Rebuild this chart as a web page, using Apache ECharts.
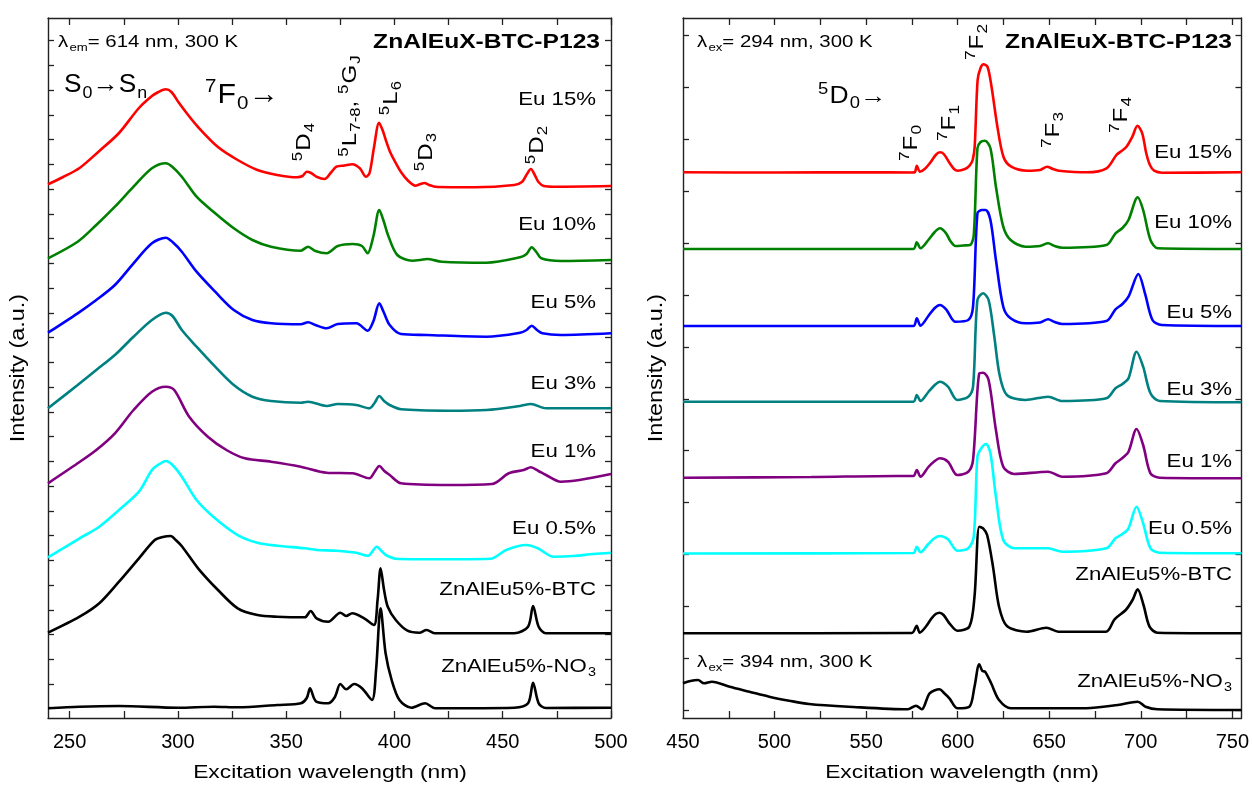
<!DOCTYPE html>
<html><head><meta charset="utf-8">
<script src="https://cdn.jsdelivr.net/npm/echarts@6.0.0/dist/echarts.min.js"></script>
<style>html,body{margin:0;padding:0;background:#fff}#c{width:1252px;height:785px}</style>
</head><body><div id="c"></div>
<script>
// ---------------- DATA (arbitrary intensity units, offset spectra) -------------
const xTicksL = [250,275,300,325,350,375,400,425,450,475,500];
const xLabelsL = [250,300,350,400,450,500];
const xTicksR = [475,500,525,550,575,600,625,650,675,700,725,750];
const xLabelsR = [450,500,550,600,650,700,750];
const yTicksL = [34,58.75,83.5,108.25,133,157.75,182.5,207.25,232,256.75,281.5,306.25,331,355.75,380.5,405.25,430,454.75,479.5,504.25,529,553.75,578.5,603.25,628,652.75,677.5];
const yTicksR = [8,59.9,111.7,163.6,215.5,267.4,319.2,371.1,423,474.9,526.7,578.6,630.5,682.4];
const sampleNames = ['Eu 15%','Eu 10%','Eu 5%','Eu 3%','Eu 1%','Eu 0.5%','ZnAlEu5%-BTC','ZnAlEu5%-NO{sub|3}'];
const sampleColors = ['#ff0000','#008000','#0000ff','#008080','#800080','#00ffff','#000000','#000000'];

const excEu15 = [[240,533.7],[247,541],[254.6,550],[263.7,567],[272.8,585],[282,610],[288,622],[291,626],[294.4,628.7],[297,626],[300.2,616],[304,605],[309.3,591],[318.5,571],[327.6,558],[336.7,548],[345.8,543],[355,540.7],[357.5,542],[359.5,546.3],[361.5,545],[364,541.3],[367.7,539],[370.5,545],[373.2,551.3],[377,552.5],[380.5,553.7],[384,549.7],[386.9,541.3],[388.5,545],[390.5,570],[392.9,595.3],[394.5,588],[396,578],[398,566],[400.6,555],[403,546],[406,538],[409.7,532.3],[412,534],[413.9,535],[416,533],[418.8,531.3],[437,530.7],[455.3,533],[459,536.3],[461.2,544],[463,549],[464.8,543],[466.5,536],[469,532],[473.5,531.3],[500,532]];
const excEu10 = [[240,459.7],[253.7,476.3],[262.3,493],[270.9,511.3],[279.5,531.3],[288,549.7],[294.4,554.7],[297.5,551],[301.8,541.3],[308.6,521.3],[317.2,504.7],[325.8,489.7],[334.4,478],[343,471.3],[356.7,467.3],[360.1,471.3],[363.5,467],[368.7,464.7],[373.8,472],[380.7,474],[385,472],[387.6,464.7],[390.3,482],[393,508],[395,497],[397,483],[401.3,463],[408.2,457.3],[412,458],[415,459],[421.9,456.3],[442.5,455.3],[458,460.7],[461,464],[463.4,470.7],[465.5,466],[467.8,459.7],[476.8,457],[500,458]];
const excEu5 = [[240,385.3],[253.7,404.7],[262.3,418],[270.9,433],[279.5,454.7],[288,474.7],[294.4,480.3],[297.5,476],[301.8,466.3],[308.6,446.3],[317.2,426.3],[325.8,408],[334.4,398],[343,394.7],[356.7,393.7],[360.1,395.7],[363.5,393],[368.7,389.7],[373.8,394],[382.4,394.7],[387.6,387.3],[390.3,397],[393,414.7],[395,406],[397.8,393],[403,384],[415,383],[442.5,381.3],[458,385.3],[461,388],[463.4,392.3],[465.8,388],[468.3,384.7],[476.8,383],[500,384.7]];
const excEu3 = [[240,309.7],[253.7,333],[262.3,348],[270.9,363],[279.5,381.3],[288,398],[294.4,405.3],[297.5,402],[301.8,388],[308.6,371.3],[317.2,351.3],[325.8,333],[334.4,321.3],[343,317],[356.7,315.3],[360.1,316.3],[368.7,312],[373.8,314],[382.4,313],[388.4,309.7],[390.8,315],[393,322],[395.2,317],[397.8,313],[403,308.7],[425.3,307.3],[442.5,308],[458,312],[463,314],[470,309.7],[500,309.7]];
const excEu1 = [[240,234.7],[253.7,254.7],[262.3,268],[270.9,284.7],[279.5,308],[288,326.3],[294.4,331.3],[298.3,328],[305.2,301.3],[313.8,281.3],[322.4,268],[330.9,259.7],[343,256.3],[356.7,251.3],[368.7,245.3],[380.7,244.7],[388.4,239.7],[390.8,246],[393,252],[395.3,247],[397.8,243],[403,234.7],[425.3,233],[445,234],[452.8,244.7],[459.7,248],[463,250.7],[466.5,247],[470,243],[476.8,236.3],[485.4,238],[500,244]];
const excEu05 = [[240,160.7],[254.6,179.7],[263.7,191.3],[272.8,208],[282,226.3],[288,248],[291.5,254],[294.4,257],[297.5,253],[301.8,241.3],[308.6,218],[317,200],[327.6,183],[336.7,175.3],[345.8,172.3],[358.6,169.7],[364,168],[373.2,167.3],[382.3,165.3],[387.8,162.3],[391.8,171.3],[394,167],[396,163],[400.6,159.3],[418.8,158.7],[444.3,159.3],[451.6,168],[460.8,173],[466.2,169.7],[473.5,161.3],[482.6,162],[491.8,164],[500,165.3]];
const excBTC = [[240,85.3],[254.6,101.3],[263.7,114.7],[272.8,136.3],[282,159.7],[289.3,178],[293,181],[296.6,182],[299,178],[302,171.3],[309.3,149.7],[318.5,128],[327.6,109.7],[336.7,103],[345.8,101.3],[358.6,100.7],[361.3,107],[364,99.7],[369.4,96.3],[375,105.3],[377.7,102],[380.5,104.7],[386,99.7],[390.5,93],[392.2,118],[393.6,149.7],[395.2,128],[396.9,111.3],[400.6,98],[406,87.3],[411.5,85.3],[414.8,88],[418.8,84.7],[455.3,84.7],[461.7,91.3],[464,112],[466.6,91.3],[469.9,84.7],[500,84.7]];
const excNO3 = [[240,9.7],[254.6,11.3],[272.8,12],[300.2,10.3],[316.6,11.3],[327.6,10.7],[345.8,13],[356.8,14.7],[359.5,20],[361,29.7],[362.8,20],[364,16.3],[369.4,14.7],[372.5,21],[375,34],[377.7,28.7],[381.4,34],[385,29.7],[389.6,18],[391.5,48],[393.6,109.7],[395.9,64.7],[398.7,38],[402.3,18],[407.8,10.3],[414.2,14.7],[418.8,9.7],[455.3,10.3],[461.7,14.7],[464,35.3],[466.6,14.7],[469.9,10],[500,10.3]];

const emEu15 = [[450,545.7],[500,545.5],[550,545.7],[575,545.5],[576.7,546],[577.7,552.3],[579.4,546.3],[582,549],[584.8,554.7],[588,563],[590.3,565.7],[592.4,564],[595.7,554.7],[598,549],[600,547.3],[604,549],[606.5,552.3],[608.2,558],[609.3,571.3],[610.9,638],[612.5,650],[614.1,653.7],[616.3,651.3],[618.5,631.3],[621.7,591.3],[625,561.3],[629.3,551.3],[638,547.3],[645,548],[648.8,551.3],[652,549],[655.3,547.3],[670.5,545.7],[681.3,549.7],[686.7,563],[689.5,567],[692.2,571.3],[695.4,581.3],[698.2,592.3],[700.8,584.7],[703,564.7],[705,553],[707.3,547.3],[711.7,545.3],[755,545.7]];
const emEu10 = [[450,469],[575.8,469],[577.7,475.7],[579.7,469.7],[584,478],[587.5,486],[590.3,489.7],[593.7,484.7],[596,477],[598.8,472],[603,472.5],[606.8,473],[608.8,483],[610.8,569.7],[612.5,576],[614.9,577.3],[617.9,569.7],[620.9,531.3],[624.9,491.3],[628.9,478],[637,471.3],[645,472],[649.4,474.7],[653,472],[657.1,470.3],[681.2,473],[686.2,484.7],[690,490],[693.3,498],[698.3,520.7],[701.3,508],[705.3,478],[709.4,469.7],[755,469]];
const emEu5 = [[450,392],[575.8,392],[577.7,399.7],[579.7,392.3],[584,402],[587.5,410],[590.3,413],[593.7,408.7],[598.8,396.3],[605.8,398],[608.4,411.3],[610.8,504.7],[613.3,508],[615.3,508],[617.9,498],[620.9,458],[624.9,411.3],[628.9,399.7],[637,394.7],[645,395.5],[649.4,398.7],[653,396],[657.1,394],[681.2,397],[686.2,408.7],[690,414],[693.3,421.3],[698.7,444],[702.3,424.7],[706.4,398],[711.4,393],[755,392]];
const emEu3 = [[450,316.3],[575.8,316.3],[577.7,323],[579.7,317],[584,326],[587.5,333],[590.3,336.3],[594.7,331.3],[599.8,318],[605.8,321.3],[608.4,331.3],[610.8,418],[613.9,424.7],[616.9,418],[619.9,383],[622.9,343],[626.9,323],[637,318],[649.4,321.3],[657.1,317],[681.2,319.7],[686.2,329.7],[690,334],[693.3,339.7],[697.7,366.3],[701.3,351.3],[705.3,324.7],[710.3,317],[755,315.7]];
const emEu1 = [[450,240.3],[520,241],[566.6,242],[575.8,242],[577.7,248],[579.7,241.3],[584,251],[587.5,257],[590.3,259.7],[594.7,256.3],[599.8,243],[605.8,246.3],[608.4,258],[611.8,344.7],[613.9,345.3],[616.9,338],[620.9,288],[624.9,251.3],[630.9,244],[649.4,246.3],[657.1,241.3],[681.2,244.7],[686.2,254.7],[690,260],[693.3,266.3],[697.7,289],[701.3,273],[705.3,244.7],[710.3,240.3],[755,239.7]];
const emEu05 = [[450,164.5],[575.8,165],[577.7,171.3],[579.7,165.7],[584,174],[587.5,180],[590.3,182],[594.7,178.7],[599.8,167.3],[605.8,169.7],[608.8,181.3],[610.8,261.3],[613,270],[615.5,274],[617.9,264.7],[620.9,221.3],[624.9,178],[630.9,169.7],[649.4,169.7],[657.1,166.3],[681.2,169.7],[686.2,179.7],[690,184],[693.3,189.7],[697.7,211.3],[701.3,194.7],[705.3,169.7],[710.3,165.3],[755,164.7]];
const emBTC = [[450,84.7],[575,85],[577.6,92.3],[579.3,85.3],[582.5,91],[585.8,99.7],[588,104],[590.1,105.3],[592.3,103],[595.5,94.7],[599.9,87.3],[606.4,91.3],[609.2,121.3],[611.8,191.3],[613.9,189.7],[616.1,183],[619.3,151.3],[622.6,111.3],[626.9,92],[637.7,86.3],[648.5,90.3],[655,86.3],[681,86.3],[685.7,98.7],[691.8,108],[695.5,118],[698.3,128.7],[701.5,113],[704.8,91.3],[709.1,85.3],[755,84.7]];
const emNO3 = [[450,34.7],[454,37],[458.2,38],[461.5,34.7],[465.8,36.3],[475.5,31.3],[486.3,26.3],[497.1,21.3],[508,17.3],[518.8,14],[540.4,11.3],[572.8,8.7],[577.2,12.3],[580.4,8.7],[584.7,24.7],[590.1,28.7],[592.7,24.7],[595.5,19.7],[599.9,9.7],[606.4,11.3],[609.2,31.3],[611.8,53.7],[613.5,47],[615,46.3],[618.3,34.7],[622.6,18],[629.1,9.7],[649.6,9.7],[670.2,9.7],[687.5,13],[698.3,16.3],[702.6,11.3],[709.1,8.7],[755,8]];

const excSeries = [excEu15, excEu10, excEu5, excEu3, excEu1, excEu05, excBTC, excNO3];
const emSeries = [emEu15, emEu10, emEu5, emEu3, emEu1, emEu05, emBTC, emNO3];

// ---------------- LAYOUT / STYLE ----------------
const FONT = '"Liberation Sans", Arial, sans-serif';
const AX = '#222';
function rt(fs, w, k) {
  k = k || 0.66;
  return {
    n: {fontSize: fs, fontFamily: FONT, fontWeight: w || 'normal', lineHeight: Math.round(fs * 1.3), color: '#000'},
    sup: {fontSize: Math.round(fs * k), fontFamily: FONT, verticalAlign: 'top', lineHeight: Math.round(fs * (k + 0.1)), color: '#000', padding: [0, 1, 0, 0]},
    sub: {fontSize: Math.round(fs * k), fontFamily: FONT, verticalAlign: 'bottom', lineHeight: Math.round(fs * (k + 0.1)), color: '#000', padding: [0, 0, 0, 1]}
  };
}
function T(x, y, text, fs, o) {
  o = o || {};
  return {type: 'text', x: x, y: y, rotation: o.rot || 0, scaleX: o.sx || 1.2, scaleY: 1, z: 100, silent: true,
    style: {text: text, rich: rt(fs, o.w, o.k), align: o.align || 'left', verticalAlign: 'middle',
      textAlign: o.align || 'left', textVerticalAlign: 'middle', fill: '#000', fontSize: fs, fontFamily: FONT}};
}
const R90 = Math.PI / 2;
const labelYL = [100, 225, 303, 384, 452, 529, 590, 667];
const labelYR = [153, 223, 313, 390, 462, 529, 575, 682];

const graphics = [];
sampleNames.forEach((s, i) => {
  const t = s.indexOf('{') >= 0 ? '{n|' + s.replace('{sub|3}', '}{sub|3}') : '{n|' + s + '}';
  graphics.push(T(596, labelYL[i], t, 18.5, {align: 'right'}));
  graphics.push(T(1232, labelYR[i], t, 18.5, {align: 'right'}));
});
const rotL = {rot: R90, align: 'center', k: 0.68};
const rotR = {rot: R90, align: 'center', k: 0.72, sx: 1.15};
graphics.push(
  T(58, 42, '{n|λ}{sub|em}{n|= 614 nm, 300 K}', 17),
  T(600, 42, '{n|ZnAlEuX-BTC-P123}', 20.5, {w: 'bold', align: 'right'}),
  T(64, 85, '{n|S}{sub|0}{n|→S}{sub|n}', 25, {sx: 1.05, k: 0.68}),
  T(205, 95, '{sup|7}{n|F}{sub|0}{n|→}', 28, {sx: 1.08, k: 0.68}),
  T(304, 142, '{sup|5}{n|D}{sub|4}', 20, rotL),
  T(350, 106, '{sup|5}{n|L}{sub|7-8}{n|, }{sup|5}{n|G}{sub|J}', 20, rotL),
  T(391, 98, '{sup|5}{n|L}{sub|6}', 20, rotL),
  T(426, 152, '{sup|5}{n|D}{sub|3}', 20, rotL),
  T(537, 145, '{sup|5}{n|D}{sub|2}', 20, rotL),
  T(697, 42, '{n|λ}{sub|ex}{n|= 294 nm, 300 K}', 17),
  T(1232, 42, '{n|ZnAlEuX-BTC-P123}', 20.5, {w: 'bold', align: 'right'}),
  T(818, 97, '{sup|5}{n|D}{sub|0}{n|→}', 23, {sx: 1.15, k: 0.68}),
  T(911, 143, '{sup|7}{n|F}{sub|0}', 21, rotR),
  T(949, 123, '{sup|7}{n|F}{sub|1}', 21, rotR),
  T(977, 42, '{sup|7}{n|F}{sub|2}', 21, rotR),
  T(1053, 130, '{sup|7}{n|F}{sub|3}', 21, rotR),
  T(1121, 115, '{sup|7}{n|F}{sub|4}', 21, rotR),
  T(697, 662, '{n|λ}{sub|ex}{n|= 394 nm, 300 K}', 17),
  T(19, 368, '{n|Intensity (a.u.)}', 19.5, {rot: R90, align: 'center'}),
  T(657, 368, '{n|Intensity (a.u.)}', 19.5, {rot: R90, align: 'center'}),
  T(330, 773, '{n|Excitation wavelength (nm)}', 19, {align: 'center'}),
  T(962, 773, '{n|Excitation wavelength (nm)}', 19, {align: 'center'})
);

function xAx(g, pos, min, max, ticks, labels) {
  return {type: 'value', gridIndex: g, position: pos, min: min, max: max,
    axisLine: {show: true, onZero: false, lineStyle: {color: AX, width: 1.4}},
    axisTick: {show: true, inside: true, length: 7, customValues: ticks, lineStyle: {color: AX, width: 1.3}},
    axisLabel: labels ? {show: true, customValues: labels, margin: 14, fontSize: 20, fontFamily: FONT, color: '#000'} : {show: false},
    splitLine: {show: false}};
}
function yAx(g, pos, ticks) {
  return {type: 'value', gridIndex: g, position: pos, min: 0, max: 700,
    axisLine: {show: true, onZero: false, lineStyle: {color: AX, width: 1.4}},
    axisTick: {show: true, inside: true, length: 6, customValues: ticks, lineStyle: {color: AX, width: 1.3}},
    axisLabel: {show: false}, splitLine: {show: false}};
}

const series = [];
excSeries.forEach((d, i) => series.push({type: 'line', xAxisIndex: 0, yAxisIndex: 0, data: d, showSymbol: false,
  smooth: 0.3, lineStyle: {color: sampleColors[i], width: 2.6}, itemStyle: {color: sampleColors[i]}, z: 10 - i}));
emSeries.forEach((d, i) => series.push({type: 'line', xAxisIndex: 2, yAxisIndex: 2, data: d, showSymbol: false,
  smooth: 0.3, lineStyle: {color: sampleColors[i], width: 2.6}, itemStyle: {color: sampleColors[i]}, z: 10 - i}));

const chart = echarts.init(document.getElementById('c'), null, {renderer: 'canvas'});
chart.setOption({
  animation: false,
  backgroundColor: '#fff',
  grid: [
    {left: 48, right: 641, top: 18, bottom: 67, containLabel: false},
    {left: 683, right: 8, top: 18, bottom: 67, containLabel: false}
  ],
  xAxis: [
    xAx(0, 'bottom', 240, 500, xTicksL, xLabelsL),
    xAx(0, 'top', 240, 500, xTicksL, null),
    xAx(1, 'bottom', 450, 755, xTicksR, xLabelsR),
    xAx(1, 'top', 450, 755, xTicksR, null)
  ],
  yAxis: [
    yAx(0, 'left', yTicksL), yAx(0, 'right', yTicksL),
    yAx(1, 'left', yTicksR), yAx(1, 'right', yTicksR)
  ],
  series: series,
  graphic: {elements: graphics}
});
</script></body></html>
